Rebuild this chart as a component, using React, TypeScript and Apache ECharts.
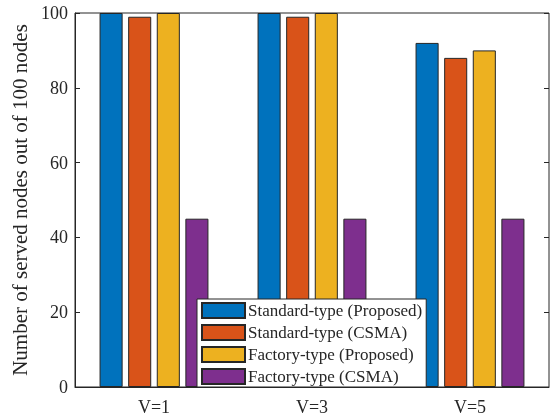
import React, { useEffect, useRef } from "react";
import * as echarts from "echarts";

const categories = ["V=1", "V=3", "V=5"];
const seriesNames = [
  "Standard-type (Proposed)",
  "Standard-type (CSMA)",
  "Factory-type (Proposed)",
  "Factory-type (CSMA)",
];
const standardProposed = [100, 100, 92];
const standardCSMA = [99, 99, 88];
const factoryProposed = [100, 100, 90];
const factoryCSMA = [45, 45, 45];
const yTicks = [0, 20, 40, 60, 80, 100];
const colors = ["#0072BD", "#D95319", "#EDB120", "#7E2F8E"];

export default function App() {
  const ref = useRef<HTMLDivElement>(null);
  useEffect(() => {
    if (!ref.current) return;
    const chart = echarts.init(ref.current, undefined, { renderer: "svg" });
    const font = "'Liberation Serif', 'Times New Roman', serif";
    const values = [standardProposed, standardCSMA, factoryProposed, factoryCSMA];
    const axisColor = "#262626";
    chart.setOption({
      animation: false,
      textStyle: { fontFamily: font },
      grid: {
        left: 75,
        right: 4,
        top: 13,
        bottom: 30,
        show: true,
        borderColor: axisColor,
        borderWidth: 1,
        backgroundColor: "#fff",
      },
      legend: {
        orient: "vertical",
        left: 197,
        top: 299,
        itemWidth: 43,
        itemHeight: 15,
        itemGap: 5,
        padding: [3, 4, 2, 4],
        backgroundColor: "#fff",
        borderColor: axisColor,
        borderWidth: 1,
        borderRadius: 0,
        icon: "rect",
        textStyle: { fontFamily: font, fontSize: 17, color: "#262626", padding: [0, 0, 0, -2] },
        data: seriesNames,
      },
      xAxis: [
        {
          type: "category",
          data: categories,
          axisLine: { show: true, lineStyle: { color: axisColor } },
          axisTick: { inside: true, alignWithLabel: true, length: 4, lineStyle: { color: axisColor } },
          axisLabel: { fontFamily: font, fontSize: 18, color: "#262626", margin: 11 },
          splitLine: { show: false },
        },
        {
          type: "category",
          position: "top",
          data: categories,
          axisLine: { show: false },
          axisTick: { inside: true, alignWithLabel: true, length: 4, lineStyle: { color: axisColor } },
          axisLabel: { show: false },
        },
      ],
      yAxis: [
        {
          type: "value",
          min: yTicks[0],
          max: yTicks[yTicks.length - 1],
          interval: 20,
          name: "Number of served nodes out of 100 nodes",
          nameLocation: "middle",
          nameGap: 42,
          nameTextStyle: { fontFamily: font, fontSize: 21, color: "#262626" },
          axisLine: { show: true, lineStyle: { color: axisColor } },
          axisTick: { show: true, inside: true, length: 5, lineStyle: { color: axisColor } },
          axisLabel: { fontFamily: font, fontSize: 18, color: "#262626", margin: 7 },
          splitLine: { show: false },
        },
        {
          type: "value",
          position: "right",
          min: yTicks[0],
          max: yTicks[yTicks.length - 1],
          interval: 20,
          axisLine: { show: false },
          axisTick: { show: true, inside: true, length: 5, lineStyle: { color: axisColor } },
          axisLabel: { show: false },
          splitLine: { show: false },
        },
      ],
      series: seriesNames.map((name, i) => ({
        name,
        type: "bar",
        data: values[i],
        barWidth: "14.6%",
        barGap: "24%",
        itemStyle: { color: colors[i], borderColor: "#262626", borderWidth: 1 },
      })),
    });
    return () => chart.dispose();
  }, []);
  return (
    <div
      ref={ref}
      style={{ position: "fixed", left: 0, top: 0, width: 553, height: 417 }}
    />
  );
}
